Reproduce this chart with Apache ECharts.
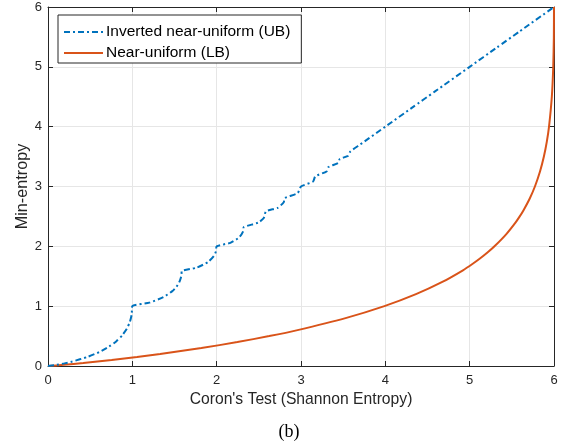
<!DOCTYPE html>
<html><head><meta charset="utf-8">
<script src="https://cdn.jsdelivr.net/npm/echarts@6/dist/echarts.min.js"></script>
<style>html,body{margin:0;padding:0;background:#fff}#c{width:569px;height:445px}</style>
</head><body><div id="c"></div>
<script>
// Upper bound (inverted near-uniform), Shannon entropy vs min-entropy
var ubX = [0, 0.0808, 0.1944, 0.2864, 0.469, 0.6098, 0.7219, 0.8113, 0.8813, 0.9341, 0.971, 0.9928, 1.0,
  1.2024, 1.369, 1.4743, 1.5219, 1.555, 1.5754, 1.5832, 1.585,
  1.7639, 1.8955, 1.9657, 1.9918, 2.0,
  2.1623, 2.269, 2.3143, 2.3219,
  2.4922, 2.5588, 2.585,
  2.724, 2.7955, 2.8074,
  2.9603, 3.0,
  3.1433, 3.1699,
  3.3028, 3.3219,
  3.4422, 3.4594,
  3.5604, 3.585,
  3.7004, 3.8074, 3.9069, 4.0, 4.3219, 4.585, 5.0, 5.3219, 5.585, 6.0];
var ubY = [0, 0.0145, 0.0439, 0.074, 0.152, 0.2345, 0.3219, 0.415, 0.5146, 0.6215, 0.737, 0.8625, 1.0,
  1.0589, 1.152, 1.2515, 1.3219, 1.396, 1.474, 1.5353, 1.585,
  1.6439, 1.737, 1.8365, 1.916, 2.0,
  2.0589, 2.152, 2.2515, 2.3219,
  2.3959, 2.474, 2.585,
  2.644, 2.737, 2.8074,
  2.889, 3.0,
  3.0831, 3.1699,
  3.2515, 3.3219,
  3.3959, 3.4594,
  3.5146, 3.585,
  3.7004, 3.8074, 3.9069, 4.0, 4.3219, 4.585, 5.0, 5.3219, 5.585, 6.0];
// Lower bound (near-uniform)
var lbX = [0, 0.1872, 0.418, 0.7548, 1.0553, 1.3297, 1.8189, 2.2459, 2.6232, 2.9589, 3.5283, 3.9887,
  4.3634, 4.6696, 4.9203, 5.0281, 5.1258, 5.2143, 5.2943, 5.4322, 5.5452, 5.5936, 5.6373, 5.7125,
  5.7737, 5.834, 5.8801, 5.9149, 5.941, 5.9743, 5.9911, 5.9983, 6.0];
var lbY = [0, 0.02, 0.05, 0.1, 0.15, 0.2, 0.3, 0.4, 0.5, 0.6, 0.8, 1.0,
  1.2, 1.4, 1.6, 1.7, 1.8, 1.9, 2.0, 2.2, 2.4, 2.5, 2.6, 2.8,
  3.0, 3.25, 3.5, 3.75, 4.0, 4.5, 5.0, 5.5, 6.0];
var xTicks = [0, 1, 2, 3, 4, 5, 6];
var yTicks = [0, 1, 2, 3, 4, 5, 6];
var seriesNames = ['Inverted near-uniform (UB)', 'Near-uniform (LB)'];

function zip(a, b) { return a.map(function (v, i) { return [v, b[i]]; }); }
var ax = '#262626';
var font = 'Liberation Sans, Arial, Helvetica, sans-serif';
var chart = echarts.init(document.getElementById('c'), null, {renderer: 'canvas'});
chart.setOption({
  animation: false,
  backgroundColor: '#fff',
  grid: {left: 48, right: 15, top: 7, bottom: 79, containLabel: false},
  legend: {
    left: 58, top: 15, orient: 'vertical', align: 'left',
    data: seriesNames,
    itemWidth: 39, itemHeight: 14, itemGap: 5,
    padding: [9, 11, 2, 5],
    borderColor: ax, borderWidth: 1, backgroundColor: '#fff',
    itemStyle: {opacity: 0},
    textStyle: {fontFamily: font, fontSize: 15.5, color: '#000', padding: [0, 0, 0, -2]}
  },
  xAxis: [{
    type: 'value', min: 0, max: 6, interval: 1,
    name: "Coron's Test (Shannon Entropy)", nameLocation: 'middle', nameGap: 26, nameMoveOverlap: false,
    nameTextStyle: {fontFamily: font, fontSize: 15.7, color: ax},
    axisLine: {show: true, onZero: false, lineStyle: {color: ax, width: 1}},
    axisTick: {show: true, inside: true, length: 5, lineStyle: {color: ax}},
    axisLabel: {fontFamily: font, fontSize: 13, color: ax, margin: 8,
      formatter: function (v) { return xTicks.indexOf(v) >= 0 ? String(v) : ''; }},
    splitLine: {show: true, lineStyle: {color: '#e6e6e6', width: 1}}
  }, {
    type: 'value', min: 0, max: 6, interval: 1, position: 'top',
    axisLine: {show: true, onZero: false, lineStyle: {color: ax, width: 1}},
    axisTick: {show: true, inside: true, length: 5, lineStyle: {color: ax}},
    axisLabel: {show: false}, splitLine: {show: false}
  }],
  yAxis: [{
    type: 'value', min: 0, max: 6, interval: 1,
    name: 'Min-entropy', nameLocation: 'middle', nameGap: 17, nameMoveOverlap: false,
    nameTextStyle: {fontFamily: font, fontSize: 16.2, color: ax},
    axisLine: {show: true, onZero: false, lineStyle: {color: ax, width: 1}},
    axisTick: {show: true, inside: true, length: 5, lineStyle: {color: ax}},
    axisLabel: {fontFamily: font, fontSize: 13, color: ax, margin: 6,
      formatter: function (v) { return yTicks.indexOf(v) >= 0 ? String(v) : ''; }},
    splitLine: {show: true, lineStyle: {color: '#e6e6e6', width: 1}}
  }, {
    type: 'value', min: 0, max: 6, interval: 1, position: 'right',
    axisLine: {show: true, onZero: false, lineStyle: {color: ax, width: 1}},
    axisTick: {show: true, inside: true, length: 5, lineStyle: {color: ax}},
    axisLabel: {show: false}, splitLine: {show: false}
  }],
  series: [{
    name: seriesNames[1], type: 'line', data: zip(lbX, lbY), smooth: 0.2,
    showSymbol: false, symbol: 'none', z: 3,
    lineStyle: {color: '#D95319', width: 2}, itemStyle: {color: '#D95319'}
  }, {
    name: seriesNames[0], type: 'line', data: zip(ubX, ubY), smooth: 0.2,
    showSymbol: false, symbol: 'none', z: 4,
    lineStyle: {color: '#0072BD', width: 2, type: [6, 3, 2, 3]}, itemStyle: {color: '#0072BD'}
  }],
  graphic: [{
    type: 'text', x: 289, y: 432,
    style: {text: '(b)', fontFamily: 'Liberation Serif, Times New Roman, serif', fontSize: 18, fill: '#000',
      align: 'center', verticalAlign: 'middle'}
  }]
});
</script>
</body></html>
